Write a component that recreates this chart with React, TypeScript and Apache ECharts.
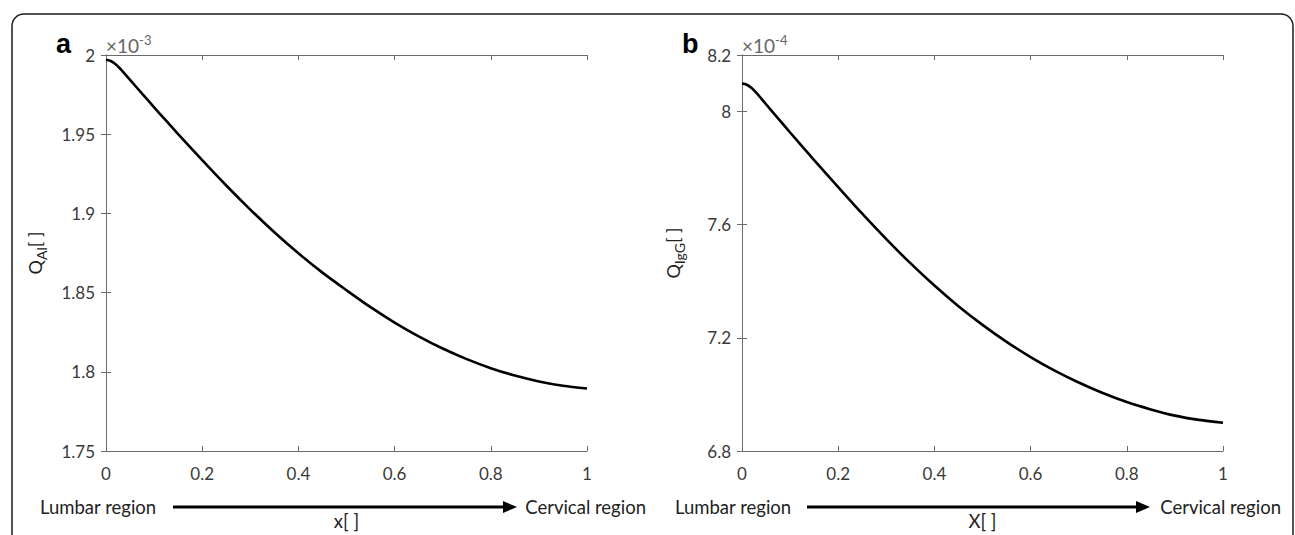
import React, { useEffect, useRef } from "react";
import * as echarts from "echarts";

// x positions (dimensionless)
const xs = [0, 0.01, 0.02, 0.03, 0.04, 0.05, 0.075, 0.1, 0.125, 0.15, 0.2, 0.25, 0.3, 0.35, 0.4, 0.45, 0.5, 0.55, 0.6, 0.65, 0.7, 0.75, 0.8, 0.85, 0.9, 0.95, 1.0];
// Q_Al in units of 1e-3
const qAl = [1.997, 1.9962, 1.9942, 1.9912, 1.9878, 1.9843, 1.9756, 1.967, 1.9585, 1.9501, 1.9336, 1.9176, 1.9024, 1.8881, 1.8748, 1.8626, 1.8515, 1.8408, 1.8311, 1.8224, 1.8147, 1.808, 1.8023, 1.7976, 1.7939, 1.7912, 1.7895];
// Q_IgG in units of 1e-4
const qIgG = [8.099, 8.095, 8.083, 8.066, 8.046, 8.026, 7.976, 7.926, 7.877, 7.828, 7.733, 7.639, 7.549, 7.464, 7.385, 7.312, 7.246, 7.186, 7.132, 7.084, 7.042, 7.005, 6.973, 6.947, 6.925, 6.91, 6.9];

const xTicks = { min: 0, max: 1, interval: 0.2 };
const yTicksA = { min: 1.75, max: 2, interval: 0.05 };
const yTicksB = { min: 6.8, max: 8.2, interval: 0.4 };

const FONT = "Lato";
const AXIS_COLOR = "#6b6b6b";
const LABEL_COLOR = "#3a3a3a";

export default function App() {
  const ref = useRef<HTMLDivElement>(null);
  useEffect(() => {
    if (!ref.current) return;
    const chart = echarts.init(ref.current, undefined, { renderer: "svg" });
    const grids = [
      { left: 106, top: 55, width: 481, height: 404 },
      { left: 742, top: 55, width: 481, height: 404 },
    ];
    const axisLine = { show: true, lineStyle: { color: AXIS_COLOR, width: 1 } };
    const tick = { show: true, inside: true, length: 5, lineStyle: { color: AXIS_COLOR } };
    const lbl = { color: LABEL_COLOR, fontFamily: FONT, fontSize: 17 };
    const xNames = ["x[ ]", "X[ ]"];
    const xAxis: any[] = [];
    const yAxis: any[] = [];
    [0, 1].forEach((g) => {
      xAxis.push({
        type: "value", gridIndex: g, position: "bottom", ...xTicks,
        axisLine, axisTick: tick, splitLine: { show: false },
        axisLabel: { ...lbl, margin: 14 },
        name: xNames[g], nameLocation: "middle", nameGap: 60,
        nameTextStyle: { color: "#222", fontFamily: FONT, fontSize: 18.5 },
      });
      xAxis.push({
        type: "value", gridIndex: g, position: "top", ...xTicks,
        axisLine, axisTick: tick, splitLine: { show: false }, axisLabel: { show: false },
      });
    });
    const yNames = [
      "{q|Q}{s|Al}{q|[ ]}",
      "{q|Q}{s|IgG}{q|[ ]}",
    ];
    const yRanges = [yTicksA, yTicksB];
    const yGaps = [58, 56];
    [0, 1].forEach((g) => {
      yAxis.push({
        type: "value", gridIndex: g, position: "left", ...yRanges[g],
        axisLine, axisTick: tick, splitLine: { show: false },
        axisLabel: { ...lbl, margin: 11 },
        name: yNames[g], nameLocation: "middle", nameGap: yGaps[g], nameRotate: 90,
        nameTextStyle: {
          rich: {
            q: { fontFamily: FONT, fontSize: 18, color: "#222", lineHeight: 26, verticalAlign: "middle" },
            s: { fontFamily: FONT, fontSize: 14, color: "#222", lineHeight: 26, verticalAlign: "bottom", padding: [12, 0, 0, 0] },
          },
        },
      });
      yAxis.push({
        type: "value", gridIndex: g, position: "right", ...yRanges[g],
        axisLine, axisTick: tick, splitLine: { show: false }, axisLabel: { show: false },
      });
    });

    const arrow = (x1: number, x2: number, y: number) => [
      { type: "line", shape: { x1, y1: y, x2: x2 - 10, y2: y }, style: { stroke: "#000", lineWidth: 3 } },
      { type: "polygon", shape: { points: [[x2 - 14, y - 6], [x2, y], [x2 - 14, y + 6]] }, style: { fill: "#000" } },
    ];
    const txt = (x: number, y: number, text: string, align: string, extra: any = {}) => ({
      type: "text", x, y,
      style: { text, fontFamily: FONT, fontSize: 18.5, fill: "#222", align, verticalAlign: "middle", ...extra },
    });
    const mult = (x: number, exp: string) => ({
      type: "text", x, y: 44,
      style: {
        text: "{a|×10}{b|" + exp + "}",
        verticalAlign: "middle",
        rich: {
          a: { fontFamily: FONT, fontSize: 19, fill: "#666", color: "#666", lineHeight: 22, verticalAlign: "bottom" },
          b: { fontFamily: FONT, fontSize: 13, fill: "#666", color: "#666", lineHeight: 22, verticalAlign: "top" },
        },
      },
    });

    chart.setOption({
      animation: false,
      backgroundColor: "#fff",
      grid: grids,
      xAxis,
      yAxis,
      series: [
        {
          type: "line", xAxisIndex: 0, yAxisIndex: 0, showSymbol: false, smooth: 0.3,
          lineStyle: { color: "#000", width: 2.6 }, data: xs.map((x, i) => [x, qAl[i]]),
        },
        {
          type: "line", xAxisIndex: 2, yAxisIndex: 2, showSymbol: false, smooth: 0.3,
          lineStyle: { color: "#000", width: 2.6 }, data: xs.map((x, i) => [x, qIgG[i]]),
        },
      ],
      graphic: [
        { type: "rect", shape: { x: 12, y: 14, width: 1281, height: 620, r: 12 }, style: { fill: "none", stroke: "#1a1a1a", lineWidth: 1.5 } },
        txt(56, 44, "a", "left", { fontFamily: "Liberation Sans", fontWeight: "bold", fontSize: 27, fill: "#000" }),
        txt(682, 44, "b", "left", { fontFamily: "Liberation Sans", fontWeight: "bold", fontSize: 27, fill: "#000" }),
        mult(106, "-3"),
        mult(742, "-4"),
        txt(40, 507, "Lumbar region", "left"),
        txt(646, 507, "Cervical region", "right"),
        ...arrow(173, 517, 507),
        txt(675, 507, "Lumbar region", "left"),
        txt(1281, 507, "Cervical region", "right"),
        ...arrow(807, 1150, 507),
      ],
    });
    return () => chart.dispose();
  }, []);
  return <div ref={ref} style={{ position: "fixed", left: 0, top: 0, width: 1295, height: 535 }} />;
}
